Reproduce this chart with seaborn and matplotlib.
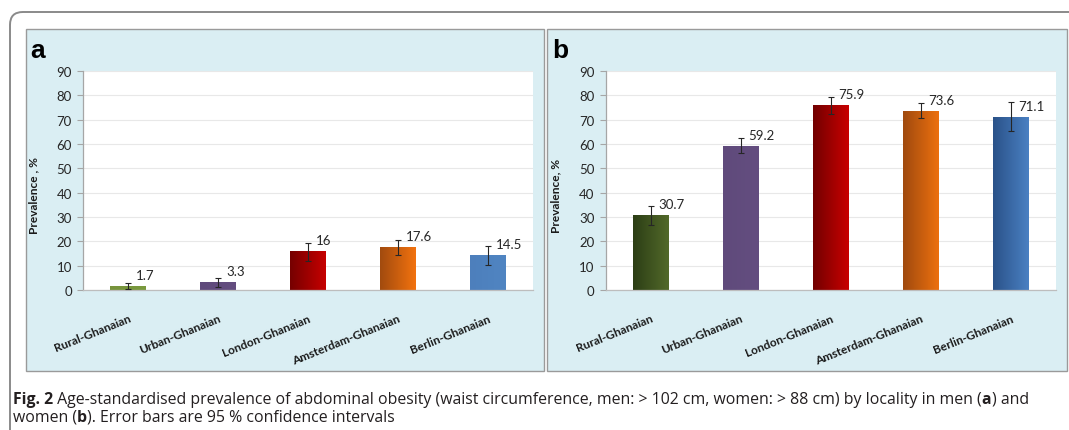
import numpy as np
import matplotlib
matplotlib.use("Agg")
import matplotlib.pyplot as plt
import seaborn as sns
from matplotlib.patches import FancyBboxPatch, Rectangle
from matplotlib.colors import LinearSegmentedColormap

# ---- data -------------------------------------------------------------
localities = ["Rural-Ghanaian", "Urban-Ghanaian", "London-Ghanaian",
              "Amsterdam-Ghanaian", "Berlin-Ghanaian"]

men_prev = [1.7, 3.3, 16.0, 17.6, 14.5]
men_ci_low = [0.4, 1.4, 12.1, 14.4, 10.4]
men_ci_high = [2.9, 4.8, 19.3, 20.5, 18.2]

women_prev = [30.7, 59.2, 75.9, 73.6, 71.1]
women_ci_low = [26.9, 56.2, 72.5, 70.7, 65.5]
women_ci_high = [34.4, 62.3, 79.2, 76.7, 77.1]

y_ticks = [0, 10, 20, 30, 40, 50, 60, 70, 80, 90]

# bar fills: (left shade, right shade) for a horizontal gradient
men_fills = [("#77933C", "#7A9A3E"), ("#5F4A7B", "#644E80"),
             ("#760000", "#C60000"), ("#A24B0E", "#F2720F"),
             ("#4D7FBC", "#5085C2")]
women_fills = [("#2C3E15", "#52692A"), ("#5F4A7B", "#644E80"),
               ("#720000", "#C80000"), ("#A04A0F", "#EC700E"),
               ("#2A5289", "#4A80C2")]

W, H = 1069, 431
PANEL_BG = "#DAEEF3"
BORDER = "#9A9A9A"
CHART_FONT = "Lato"
CAPTION_FONT = "Open Sans"

sns.set_theme(style="white")
plt.rcParams["font.family"] = [CHART_FONT, "DejaVu Sans"]

fig = plt.figure(figsize=(W / 100, H / 100), dpi=100)
fig.patch.set_facecolor("white")


def fx(px):
    return px / W


def fy(py):
    return 1 - py / H


# outer frame with rounded top-left corner (runs off the right/bottom edge)
frame = FancyBboxPatch((fx(10), fy(500)), fx(1150), fy(13) - fy(500),
                       boxstyle="round,pad=0,rounding_size=0.012",
                       transform=fig.transFigure, facecolor="none",
                       edgecolor="#8A8A8A", linewidth=1.4, zorder=-3,
                       mutation_aspect=W / H)
fig.add_artist(frame)

# shaded panel boxes
for x0, x1 in [(26, 544), (547, 1067)]:
    fig.add_artist(Rectangle((fx(x0), fy(372)), fx(x1 - x0), fy(30) - fy(372),
                             transform=fig.transFigure, facecolor=PANEL_BG,
                             edgecolor=BORDER, linewidth=1.0, zorder=-2))


def gradient_fill(ax, patch, c_left, c_right):
    x, y = patch.get_x(), patch.get_y()
    w, h = patch.get_width(), patch.get_height()
    cmap = LinearSegmentedColormap.from_list("g", [c_left, c_right])
    grad = np.linspace(0, 1, 64).reshape(1, -1)
    im = ax.imshow(grad, extent=[x, x + w, y, y + h], aspect="auto",
                   cmap=cmap, origin="lower", zorder=patch.get_zorder() + 0.1,
                   interpolation="bicubic")
    im.set_clip_path(patch)


def draw_panel(left_px, prev, lo, hi, fills, letter, ylabel):
    ax = fig.add_axes([fx(left_px), fy(291), fx(450), fy(72) - fy(291)])
    ax.set_facecolor("white")
    sns.barplot(x=localities, y=prev, hue=localities, ax=ax, width=0.39,
                palette=[f[1] for f in fills], legend=False, linewidth=0,
                saturation=1, zorder=2)
    for patch, (cl, cr) in zip(ax.patches, fills):
        gradient_fill(ax, patch, cl, cr)

    xs = np.arange(len(localities))
    prev_a = np.asarray(prev)
    yerr = np.vstack([prev_a - np.asarray(lo), np.asarray(hi) - prev_a])
    ax.errorbar(xs, prev_a, yerr=yerr, fmt="none", ecolor="#262626",
                elinewidth=0.8, capsize=2.5, capthick=0.8, zorder=4)

    for i, v in enumerate(prev):
        ax.text(i + 0.09, v + 4.5, f"{v:g}", ha="left", va="center",
                fontsize=9.5, color="#262626", zorder=5)

    ax.set_xlim(-0.5, len(localities) - 0.5)
    ax.set_ylim(0, 90)
    ax.set_yticks(y_ticks)
    ax.yaxis.grid(True, color="#E8E8E8", linewidth=0.8)
    ax.xaxis.grid(False)
    ax.set_axisbelow(True)
    for s in ["top", "right"]:
        ax.spines[s].set_visible(False)
    ax.spines["left"].set_color("#A6A6A6")
    ax.spines["bottom"].set_color("#BDBDBD")
    ax.spines["left"].set_linewidth(0.9)
    ax.spines["bottom"].set_linewidth(0.9)
    ax.tick_params(axis="y", left=True, length=4, width=0.8, color="#A6A6A6",
                   labelsize=9.5, labelcolor="#262626", pad=4)
    ax.tick_params(axis="x", bottom=False, pad=10)
    ax.set_xticks(xs)
    ax.set_xticklabels(localities, rotation=22, ha="right",
                       rotation_mode="anchor", fontsize=8.6, fontweight="bold",
                       color="#1A1A1A")
    ax.set_xlabel("")
    ax.set_ylabel(ylabel, fontsize=8.6, fontweight="bold", color="#1A1A1A")
    ax.yaxis.set_label_coords(-0.098, 0.434)
    fig.text(fx(left_px - 53), fy(58), letter, fontsize=19, fontweight="bold",
             family=["Liberation Sans", "DejaVu Sans"], color="black",
             ha="left", va="baseline")
    return ax


draw_panel(83, men_prev, men_ci_low, men_ci_high, men_fills, "a",
           "Prevalence , %")
draw_panel(605.5, women_prev, women_ci_low, women_ci_high, women_fills, "b",
           "Prevalence, %")

# ---- caption with bold runs -------------------------------------------
caption_lines = [
    [("Fig. 2", "bold"),
     (" Age-standardised prevalence of abdominal obesity (waist circumference, "
      "men: > 102 cm, women: > 88 cm) by locality in men (", "normal"),
     ("a", "bold"), (") and", "normal")],
    [("women (", "normal"), ("b", "bold"),
     ("). Error bars are 95 % confidence intervals", "normal")],
]
renderer = fig.canvas.get_renderer()
for baseline, pieces in zip([404, 422], caption_lines):
    x = 13.0
    for txt, weight in pieces:
        t = fig.text(fx(x), fy(baseline), txt, fontsize=11.4, fontweight=weight,
                     family=[CAPTION_FONT, "DejaVu Sans"], color="#231F20",
                     ha="left", va="baseline")
        bb = t.get_window_extent(renderer=renderer)
        x += bb.width

fig.savefig("out.png", dpi=100, facecolor="white")
